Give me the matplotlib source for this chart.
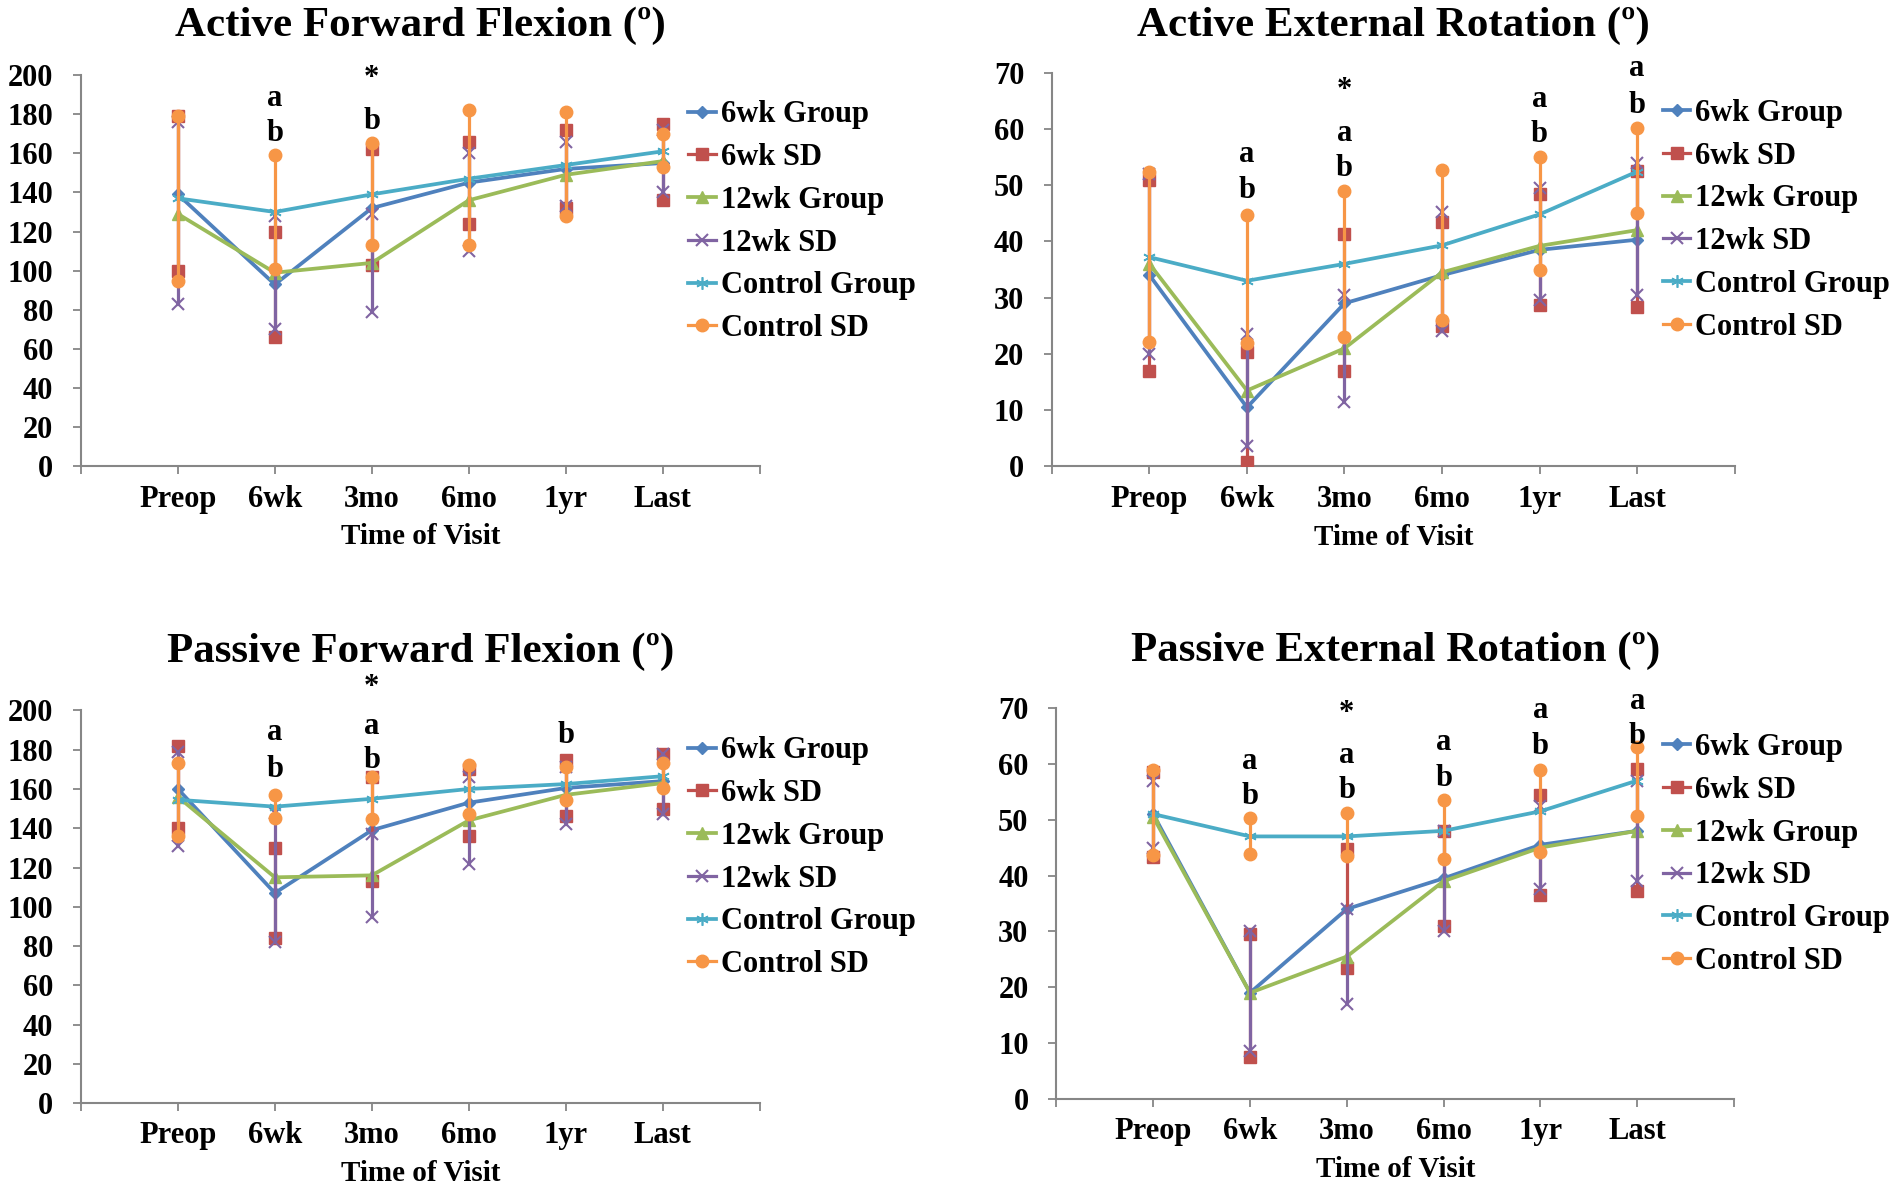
import matplotlib
matplotlib.use("Agg")
import matplotlib.pyplot as plt
import numpy as np

plt.rcParams['font.family'] = ['Liberation Serif', 'DejaVu Serif']
plt.rcParams['font.weight'] = 'bold'

visits = ['Preop', '6wk', '3mo', '6mo', '1yr', 'Last']
series_names = ['6wk Group', '6wk SD', '12wk Group', '12wk SD', 'Control Group', 'Control SD']

# ---- Active Forward Flexion
aff_6wk = [139, 93, 132, 145, 152, 155]
aff_6wk_sd_hi = [179, 120, 162, 166, 172, 175]
aff_6wk_sd_lo = [100, 66, 103, 124, 132, 136]
aff_12wk = [129, 99, 104, 136, 149, 156]
aff_12wk_sd_hi = [176, 128, 129, 160, 166, 172]
aff_12wk_sd_lo = [83, 70, 79, 110, 133, 140]
aff_ctrl = [137, 130, 139, 147, 154, 161]
aff_ctrl_sd_hi = [179, 159, 165, 182, 181, 170]
aff_ctrl_sd_lo = [95, 101, 113, 113, 128, 153]
aff_marks = [(2, 188, 'a'), (2, 170, 'b'), (3, 198, '*'), (3, 176, 'b')]

# ---- Active External Rotation
aer_6wk = [34, 10.5, 29, 34, 38.5, 40.3]
aer_6wk_sd_hi = [51, 20.3, 41.3, 43.5, 48.5, 52.5]
aer_6wk_sd_lo = [17, 0.8, 17, 25, 28.7, 28.4]
aer_12wk = [36, 13.5, 21, 34.5, 39.2, 42]
aer_12wk_sd_hi = [52, 23.5, 30.5, 45.3, 49.5, 54]
aer_12wk_sd_lo = [20, 3.7, 11.5, 24, 29.5, 30.5]
aer_ctrl = [37.2, 33, 36, 39.3, 44.8, 52.4]
aer_ctrl_sd_hi = [52.3, 44.7, 49, 52.7, 55, 60.2]
aer_ctrl_sd_lo = [22.2, 22, 23, 26, 35, 45]
aer_marks = [(2, 55.4, 'a'), (2, 49, 'b'), (3, 66.8, '*'), (3, 59.2, 'a'), (3, 52.9, 'b'),
             (5, 65.3, 'a'), (5, 59, 'b'), (6, 70.7, 'a'), (6, 64.2, 'b')]

# ---- Passive Forward Flexion
pff_6wk = [160, 107, 139, 153, 160.5, 164]
pff_6wk_sd_hi = [182, 130, 166, 170, 175, 178]
pff_6wk_sd_lo = [140, 84, 113, 136, 146, 150]
pff_12wk = [156, 115, 116, 144, 157, 163]
pff_12wk_sd_hi = [179, 148, 137, 166, 171, 178]
pff_12wk_sd_lo = [131, 82, 95, 122, 142, 147]
pff_ctrl = [154.5, 151, 155, 160, 162.5, 166.5]
pff_ctrl_sd_hi = [173, 157, 166, 172, 171, 173]
pff_ctrl_sd_lo = [136, 145, 144.5, 147, 154.5, 160.5]
pff_marks = [(2, 188.6, 'a'), (2, 170, 'b'), (3, 211.5, '*'), (3, 191.9, 'a'), (3, 174.4, 'b'),
             (5, 187, 'b')]

# ---- Passive External Rotation
per_6wk = [51, 19, 34, 39.5, 45.5, 48]
per_6wk_sd_hi = [58.5, 29.5, 44.8, 48, 54.5, 59]
per_6wk_sd_lo = [43.3, 7.6, 23.5, 31, 36.5, 37.2]
per_12wk = [50.5, 19, 25.5, 39, 45, 48]
per_12wk_sd_hi = [57, 30, 34, 48, 52.5, 57]
per_12wk_sd_lo = [45, 8.5, 17, 30, 37.5, 39]
per_ctrl = [51, 47, 47, 48, 51.5, 57]
per_ctrl_sd_hi = [58.8, 50.3, 51.2, 53.5, 58.8, 63]
per_ctrl_sd_lo = [43.7, 43.8, 43.5, 43, 44.2, 50.7]
per_marks = [(2, 60.4, 'a'), (2, 54.2, 'b'), (3, 69, '*'), (3, 61.4, 'a'), (3, 55.3, 'b'),
             (4, 63.9, 'a'), (4, 57.4, 'b'), (5, 69.5, 'a'), (5, 63.1, 'b'),
             (6, 71.2, 'a'), (6, 64.9, 'b')]

blue, red, green, purple, cyan, orange = '#4F81BD', '#C0504D', '#9BBB59', '#8064A2', '#4BACC6', '#F79646'

fig = plt.figure(figsize=(19.04, 11.9), dpi=100)

panels = [
    ([0.0425, 0.608, 0.3565, 0.329], 'Active Forward Flexion (º)', 200, 20,
     (aff_6wk, aff_6wk_sd_hi, aff_6wk_sd_lo, aff_12wk, aff_12wk_sd_hi, aff_12wk_sd_lo,
      aff_ctrl, aff_ctrl_sd_hi, aff_ctrl_sd_lo), aff_marks, 0.978),
    ([0.5525, 0.608, 0.3585, 0.331], 'Active External Rotation (º)', 70, 10,
     (aer_6wk, aer_6wk_sd_hi, aer_6wk_sd_lo, aer_12wk, aer_12wk_sd_hi, aer_12wk_sd_lo,
      aer_ctrl, aer_ctrl_sd_hi, aer_ctrl_sd_lo), aer_marks, 0.978),
    ([0.0425, 0.073, 0.3565, 0.330], 'Passive Forward Flexion (º)', 200, 20,
     (pff_6wk, pff_6wk_sd_hi, pff_6wk_sd_lo, pff_12wk, pff_12wk_sd_hi, pff_12wk_sd_lo,
      pff_ctrl, pff_ctrl_sd_hi, pff_ctrl_sd_lo), pff_marks, 0.452),
    ([0.5548, 0.0765, 0.356, 0.3286], 'Passive External Rotation (º)', 70, 10,
     (per_6wk, per_6wk_sd_hi, per_6wk_sd_lo, per_12wk, per_12wk_sd_hi, per_12wk_sd_lo,
      per_ctrl, per_ctrl_sd_hi, per_ctrl_sd_lo), per_marks, 0.453),
]

x = np.arange(1, len(visits) + 1)


def sd_xy(hi, lo):
    xs, ys = [], []
    for xi, h, l in zip(x, hi, lo):
        xs += [xi, xi, np.nan]
        ys += [h, l, np.nan]
    return xs, ys


for rect, title, ymax, ystep, d, marks, title_y in panels:
    ax = fig.add_axes(rect)
    g6, g6h, g6l, g12, g12h, g12l, gc, gch, gcl = d

    ax.plot(x, g6, color=blue, lw=2.7, marker='D', ms=6, label=series_names[0], zorder=3)
    sx, sy = sd_xy(g6h, g6l)
    ax.plot(sx, sy, color=red, lw=2.3, marker='s', ms=9, label=series_names[1], zorder=4)
    ax.plot(x, g12, color=green, lw=2.7, marker='^', ms=8, label=series_names[2], zorder=5)
    sx, sy = sd_xy(g12h, g12l)
    ax.plot(sx, sy, color=purple, lw=2.3, marker='x', ms=9, mew=1.5, label=series_names[3], zorder=6)
    ax.plot(x, gc, color=cyan, lw=2.7, marker=(6, 2, 0), ms=9, mew=1.2, label=series_names[4], zorder=7)
    sx, sy = sd_xy(gch, gcl)
    ax.plot(sx, sy, color=orange, lw=2.3, marker='o', ms=9, label=series_names[5], zorder=8)

    for xi, yi, s in marks:
        ax.text(xi, yi, s, ha='center', va='center', fontsize=22, fontweight='bold',
                clip_on=False, zorder=10)

    ax.set_xlim(0, 7)
    ax.set_ylim(0, ymax)
    ax.set_yticks(np.arange(0, ymax + 1, ystep))
    ax.set_xticks(np.arange(0, 8))
    ax.set_xticklabels([''] + visits + [''])
    for s in ['top', 'right']:
        ax.spines[s].set_visible(False)
    for s in ['left', 'bottom']:
        ax.spines[s].set_color('#868686')
        ax.spines[s].set_linewidth(1.5)
    ax.tick_params(axis='y', direction='out', length=6, width=1.3, color='#868686',
                   pad=14, labelsize=22)
    ax.tick_params(axis='x', direction='out', length=6, width=1.3, color='#868686',
                   pad=7, labelsize=22)
    for lab in ax.get_xticklabels() + ax.get_yticklabels():
        lab.set_fontweight('bold')

    ax.text(0.5, -0.18, 'Time of Visit', transform=ax.transAxes, ha='center', va='center',
            fontsize=21, fontweight='bold')
    cx = rect[0] + rect[2] / 2
    fig.text(cx, title_y, title, ha='center', va='center', fontsize=31, fontweight='bold')

    ax.legend(loc='center left', bbox_to_anchor=(0.895, 0.625), frameon=False,
              handlelength=0.9, handletextpad=0.15, labelspacing=0.45,
              borderpad=0, borderaxespad=0, prop={'weight': 'bold', 'size': 22})

fig.savefig('out.png', dpi=100)
